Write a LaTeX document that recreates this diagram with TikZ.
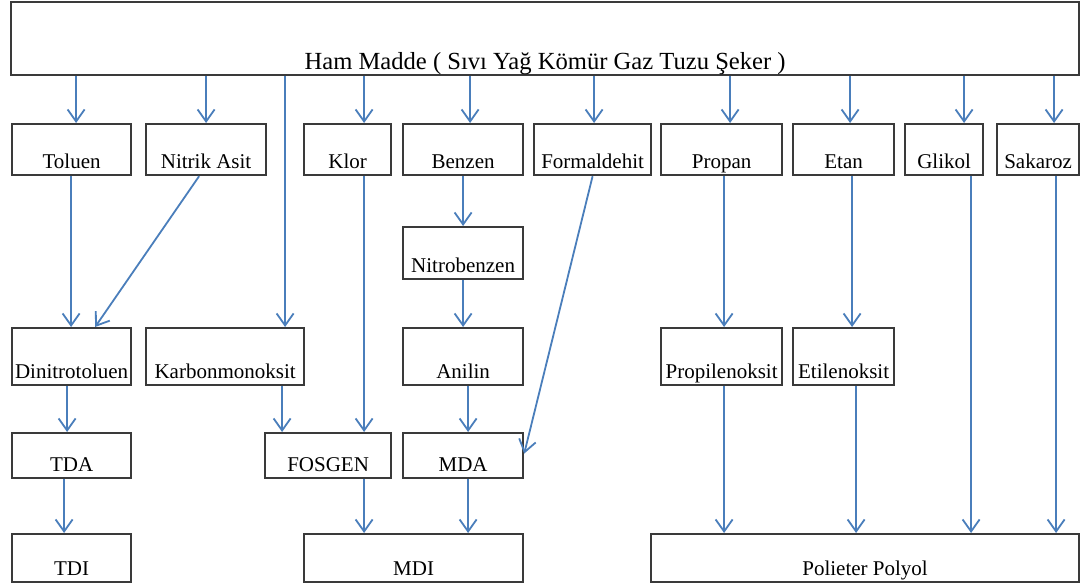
\documentclass[tikz,border=0pt]{standalone}
\usepackage{fontspec}
\setmainfont{Liberation Serif}
\usetikzlibrary{arrows.meta}
\definecolor{linkblue}{HTML}{4A7EBB}
\definecolor{boxgray}{HTML}{3A3A3A}
\tikzset{
  box/.style={draw=boxgray, line width=1.1pt, anchor=north west, inner xsep=1pt, inner ysep=0pt, text depth=3.5pt, font=\fontsize{10.5}{12}\selectfont},
  rowa/.style={box, text height=22pt},
  rowb/.style={box, text height=25pt},
  rowc/.style={box, text height=19pt},
  rowd/.style={box, text height=20.5pt},
  edge/.style={-{Straight Barb[length=6pt, width=8.5pt]}, line width=0.9pt, draw=linkblue}
}

\begin{document}
\begin{tikzpicture}[x=0.5pt, y=-0.5pt]
\useasboundingbox (0,0) rectangle (1084,584);

\node[box, minimum width=534pt, text height=33.5pt, text depth=3pt, font=\fontsize{12.3}{14}\selectfont] (top) at (10,1) {Ham Madde ( Sıvı Yağ Kömür Gaz Tuzu Şeker )};

% first row
\node[rowa, minimum width=59.5pt] (tol) at (11,123) {Toluen};
\node[rowa, minimum width=60pt] (nit) at (145,123) {Nitrik Asit};
\node[rowa, minimum width=43.5pt] (klor) at (303,123) {Klor};
\node[rowa, minimum width=60pt] (benz) at (402,123) {Benzen};
\node[rowa, minimum width=58.5pt] (form) at (533,123) {Formaldehit};
\node[rowa, minimum width=60.5pt] (prop) at (660,123) {Propan};
\node[rowa, minimum width=50.5pt] (etan) at (792,123) {Etan};
\node[rowa, minimum width=39pt] (glik) at (904,123) {Glikol};
\node[rowa, minimum width=41pt] (sak) at (996,123) {Sakaroz};

\node[box, minimum width=60pt, text height=22.5pt] (nitb) at (402,226) {Nitrobenzen};

% second row
\node[rowb, minimum width=59.5pt] (dnt) at (11,327) {Dinitrotoluen};
\node[rowb, minimum width=79pt] (karb) at (145,327) {Karbonmonoksit};
\node[rowb, minimum width=60pt] (anil) at (402,327) {Anilin};
\node[rowb, minimum width=60.5pt] (prox) at (660,327) {Propilenoksit};
\node[rowb, minimum width=50.5pt] (etox) at (792,327) {Etilenoksit};

% third row
\node[rowc, minimum width=59.5pt] (tda) at (11,432) {TDA};
\node[rowc, minimum width=63pt] (fos) at (264,432) {FOSGEN};
\node[rowc, minimum width=60pt] (mda) at (402,432) {MDA};

% products
\node[rowd, minimum width=59.5pt] (tdi) at (11,533) {TDI};
\node[rowd, minimum width=109.5pt] (mdi) at (303,533) {MDI};
\node[rowd, minimum width=214pt] (poly) at (650,533) {Polieter Polyol};

% from the raw material
\draw[edge] ([xshift=2.25pt]tol.north |- top.south) -- ([xshift=2.25pt]tol.north);
\draw[edge] (nit.north |- top.south) -- (nit.north);
\draw[edge] ([xshift=30pt]karb.north |- top.south) -- ([xshift=30pt]karb.north);
\draw[edge] ([xshift=8.25pt]klor.north |- top.south) -- ([xshift=8.25pt]klor.north);
\draw[edge] ([xshift=3.5pt]benz.north |- top.south) -- ([xshift=3.5pt]benz.north);
\draw[edge] ([xshift=0.75pt]form.north |- top.south) -- ([xshift=0.75pt]form.north);
\draw[edge] ([xshift=4.25pt]prop.north |- top.south) -- ([xshift=4.25pt]prop.north);
\draw[edge] ([xshift=3.25pt]etan.north |- top.south) -- ([xshift=3.25pt]etan.north);
\draw[edge] ([xshift=10pt]glik.north |- top.south) -- ([xshift=10pt]glik.north);
\draw[edge] ([xshift=8pt]sak.north |- top.south) -- ([xshift=8pt]sak.north);

% TDI line
\draw[edge] ([xshift=-0.25pt]tol.south) -- ([xshift=-0.25pt]tol.south |- dnt.north);
\draw[edge] ([xshift=-3.5pt]nit.south) -- ([xshift=11.75pt]dnt.north);
\draw[edge] ([xshift=-2.25pt]dnt.south) -- ([xshift=-2.25pt]tda.north);
\draw[edge] ([xshift=-3.75pt]tda.south) -- ([xshift=-3.75pt]tdi.north);

% MDI line
\draw[edge] ([xshift=8.25pt]klor.south) -- ([xshift=8.25pt]klor.south |- fos.north);
\draw[edge] ([xshift=28.5pt]karb.south) -- ([xshift=28.5pt]karb.south |- fos.north);
\draw[edge] (benz.south) -- (nitb.north);
\draw[edge] (nitb.south) -- (anil.north);
\draw[edge] ([xshift=2.5pt]anil.south) -- ([xshift=2.5pt]mda.north);
\draw[edge] (form.south) -- ([yshift=1pt]mda.east);
\draw[edge] ([xshift=18pt]fos.south) -- ([xshift=18pt]fos.south |- mdi.north);
\draw[edge] ([xshift=2.5pt]mda.south) -- ([xshift=2.5pt]mda.south |- mdi.north);

% polyol line
\draw[edge] ([xshift=1.25pt]prop.south) -- ([xshift=1.25pt]prox.north);
\draw[edge] ([xshift=4.25pt]etan.south) -- ([xshift=4.25pt]etox.north);
\draw[edge] ([xshift=1.25pt]prox.south) -- ([xshift=1.25pt]prox.south |- poly.north);
\draw[edge] ([xshift=6.25pt]etox.south) -- ([xshift=6.25pt]etox.south |- poly.north);
\draw[edge] ([xshift=13.5pt]glik.south) -- ([xshift=13.5pt]glik.south |- poly.north);
\draw[edge] ([xshift=9pt]sak.south) -- ([xshift=9pt]sak.south |- poly.north);
\end{tikzpicture}
\end{document}
